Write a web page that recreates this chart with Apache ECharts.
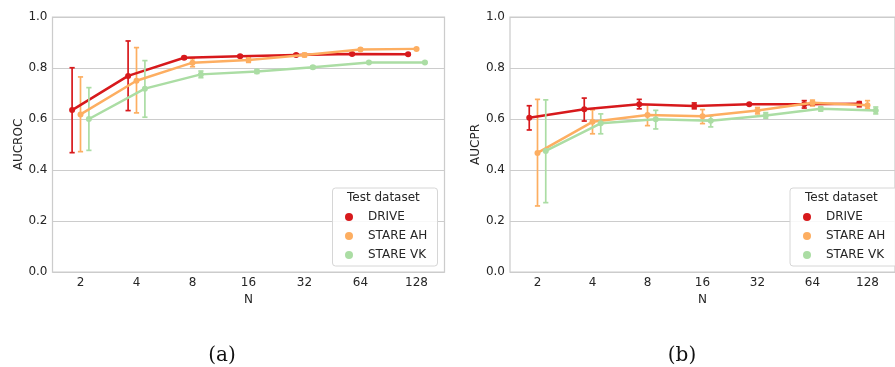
<!DOCTYPE html>
<html>
<head>
<meta charset="utf-8">
<script src="https://cdn.jsdelivr.net/npm/echarts@6/dist/echarts.min.js"></script>
<style>
html,body{margin:0;padding:0;background:#fff;}
#c{width:895px;height:367px;}
</style>
</head>
<body>
<div id="c"></div>
<script>
// ---- data ----
const nLabels = ['2', '4', '8', '16', '32', '64', '128'];
const seriesNames = ['DRIVE', 'STARE AH', 'STARE VK'];

// (a) AUCROC
const rocDrive     = [0.635, 0.769, 0.840, 0.846, 0.851, 0.855, 0.854];
const rocDriveLow  = [0.468, 0.633, 0.835, 0.842, 0.848, 0.852, 0.851];
const rocDriveHigh = [0.801, 0.906, 0.845, 0.850, 0.855, 0.858, 0.857];
const rocAH        = [0.618, 0.750, 0.821, 0.831, 0.851, 0.873, 0.875];
const rocAHLow     = [0.472, 0.624, 0.805, 0.822, 0.844, 0.869, 0.872];
const rocAHHigh    = [0.765, 0.880, 0.837, 0.840, 0.858, 0.877, 0.878];
const rocVK        = [0.600, 0.719, 0.775, 0.786, 0.803, 0.822, 0.822];
const rocVKLow     = [0.477, 0.607, 0.762, 0.779, 0.798, 0.819, 0.819];
const rocVKHigh    = [0.723, 0.829, 0.788, 0.794, 0.808, 0.825, 0.825];

// (b) AUCPR
const prDrive      = [0.605, 0.638, 0.658, 0.651, 0.658, 0.658, 0.660];
const prDriveLow   = [0.557, 0.592, 0.640, 0.640, 0.655, 0.643, 0.648];
const prDriveHigh  = [0.652, 0.682, 0.677, 0.663, 0.661, 0.672, 0.668];
const prAH         = [0.467, 0.589, 0.616, 0.611, 0.633, 0.664, 0.654];
const prAHLow      = [0.259, 0.542, 0.574, 0.582, 0.620, 0.651, 0.642];
const prAHHigh     = [0.677, 0.636, 0.656, 0.637, 0.645, 0.674, 0.672];
const prVK         = [0.475, 0.583, 0.599, 0.593, 0.614, 0.640, 0.633];
const prVKLow      = [0.272, 0.542, 0.561, 0.569, 0.603, 0.631, 0.620];
const prVKHigh     = [0.675, 0.620, 0.634, 0.612, 0.625, 0.648, 0.647];

// ---- styling ----
const colors = ['#d7191c', '#fdae61', '#abdda4'];
const dodge = [-0.15, 0, 0.15];
const txt = '#262626';
const gridC = '#cccccc';
const FONT = 'DejaVu Sans';

const panels = [
  {name: 'AUCROC', means: [rocDrive, rocAH, rocVK], lows: [rocDriveLow, rocAHLow, rocVKLow], highs: [rocDriveHigh, rocAHHigh, rocVKHigh]},
  {name: 'AUCPR', means: [prDrive, prAH, prVK], lows: [prDriveLow, prAHLow, prVKLow], highs: [prDriveHigh, prAHHigh, prVKHigh]}
];
const gridLefts = [52.5, 510];

const grids = [], xAxes = [], yAxes = [], series = [];
panels.forEach((p, pi) => {
  grids.push({left: gridLefts[pi], top: 17, width: 392, height: 255, show: true,
    borderColor: gridC, borderWidth: 1.25, backgroundColor: 'transparent'});
  xAxes.push({type: 'category', gridIndex: pi, data: nLabels, boundaryGap: true,
    axisLine: {show: false}, axisTick: {show: false}, splitLine: {show: false},
    axisLabel: {color: txt, fontSize: 12, fontFamily: FONT, margin: 5},
    name: 'N', nameLocation: 'middle', nameGap: 20,
    nameTextStyle: {color: txt, fontSize: 12, fontFamily: FONT}});
  xAxes.push({type: 'value', gridIndex: pi, min: -0.5, max: 6.5, show: false});
  yAxes.push({type: 'value', gridIndex: pi, min: 0, max: 1, interval: 0.2,
    axisLine: {show: false}, axisTick: {show: false},
    splitLine: {show: true, lineStyle: {color: gridC, width: 1}},
    axisLabel: {color: txt, fontSize: 12, fontFamily: FONT, margin: 5,
      formatter: v => v.toFixed(1)},
    name: p.name, nameLocation: 'middle', nameGap: 28, nameRotate: 90,
    nameTextStyle: {color: txt, fontSize: 12, fontFamily: FONT}});
  const xi = pi * 2 + 1;
  p.means.forEach((m, si) => {
    const off = dodge[si];
    const errData = m.map((v, i) => [i + off, p.lows[si][i], p.highs[si][i]]);
    series.push({
      type: 'custom', name: seriesNames[si] + ' ci', xAxisIndex: xi, yAxisIndex: pi,
      data: errData, z: 2 + si, silent: true,
      renderItem: (params, api) => {
        const x = api.value(0);
        const lo = api.coord([x, api.value(1)]);
        const hi = api.coord([x, api.value(2)]);
        const cw = 2.6;
        const st = {stroke: colors[si], lineWidth: 1.7};
        return {type: 'group', children: [
          {type: 'line', shape: {x1: lo[0], y1: lo[1], x2: hi[0], y2: hi[1]}, style: st},
          {type: 'line', shape: {x1: lo[0] - cw, y1: lo[1], x2: lo[0] + cw, y2: lo[1]}, style: st},
          {type: 'line', shape: {x1: hi[0] - cw, y1: hi[1], x2: hi[0] + cw, y2: hi[1]}, style: st}
        ]};
      }
    });
    series.push({
      type: 'line', name: seriesNames[si], xAxisIndex: xi, yAxisIndex: pi,
      data: m.map((v, i) => [i + off, v]), z: 3 + si,
      color: colors[si],
      lineStyle: {color: colors[si], width: 2.5},
      itemStyle: {color: colors[si]},
      symbol: 'circle', symbolSize: 6, showSymbol: true, animation: false
    });
  });
});

const legendBase = {
  orient: 'vertical', data: seriesNames, icon: 'circle', itemWidth: 8, itemHeight: 8,
  itemGap: 5, padding: 0, top: 210, selectedMode: false,
  textStyle: {color: txt, fontSize: 12, fontFamily: FONT, lineHeight: 14, padding: [0, 0, 0, 10]}
};

const option = {
  animation: false,
  backgroundColor: '#ffffff',
  grid: grids, xAxis: xAxes, yAxis: yAxes, series: series,
  legend: [
    Object.assign({}, legendBase, {left: 345}),
    Object.assign({}, legendBase, {left: 803})
  ],
  graphic: [
    {type: 'rect', z: 3, shape: {x: 332.5, y: 188, width: 105, height: 78, r: 3},
      style: {fill: 'rgba(255,255,255,0.85)', stroke: '#d6d6d6', lineWidth: 1}},
    {type: 'rect', z: 3, shape: {x: 790, y: 188, width: 120, height: 78, r: 3},
      style: {fill: 'rgba(255,255,255,0.85)', stroke: '#d6d6d6', lineWidth: 1}},
    {type: 'text', z: 5, x: 347, y: 198, style: {text: 'Test dataset', fill: txt, font: '12px "DejaVu Sans"', verticalAlign: 'middle'}},
    {type: 'text', z: 5, x: 805, y: 198, style: {text: 'Test dataset', fill: txt, font: '12px "DejaVu Sans"', verticalAlign: 'middle'}},
    {type: 'text', z: 5, x: 222, y: 356, style: {text: '(a)', fill: '#111', font: '20px "DejaVu Serif"', align: 'center', verticalAlign: 'middle'}},
    {type: 'text', z: 5, x: 682, y: 356, style: {text: '(b)', fill: '#111', font: '20px "DejaVu Serif"', align: 'center', verticalAlign: 'middle'}}
  ]
};

const chart = echarts.init(document.getElementById('c'), null, {renderer: 'canvas'});
chart.setOption(option);
</script>
</body>
</html>
